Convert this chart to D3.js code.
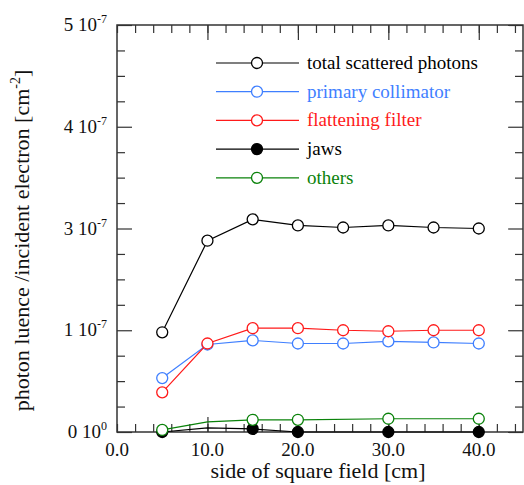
<!DOCTYPE html>
<html>
<head>
<meta charset="utf-8">
<script src="https://cdn.jsdelivr.net/npm/d3@7"></script>
<style>
  body { margin: 0; background: #fff; }
  svg { display: block; font-family: "Liberation Serif", serif; }
</style>
</head>
<body>
<div id="chart_div"></div>
<script>
// field sizes (cm)
var fieldX = [5, 10, 15, 20, 25, 30, 35, 40];

// values in units of 1e-7 (position on the axis)
var totalY = [0.98, 1.88, 2.09, 2.03, 2.01, 2.03, 2.01, 2.00];
var primaryY = [0.53, 0.86, 0.90, 0.87, 0.87, 0.89, 0.88, 0.87];
var filterY = [0.39, 0.87, 1.02, 1.02, 1.00, 0.99, 1.00, 1.00];

var jawsX = [5, 10, 15, 20, 30, 40];
var jawsY = [0.00, 0.04, 0.03, 0.00, 0.00, 0.00];
var jawsMarked = [true, false, true, true, true, true];

var othersX = [5, 10, 15, 20, 30, 40];
var othersY = [0.02, 0.10, 0.12, 0.12, 0.13, 0.13];
var othersMarked = [true, false, true, true, true, true];

// y tick labels as printed on the original
var yTickVals = [0, 1, 2, 3, 4];
var yTickMant = ["0", "1", "3", "4", "5"];
var yTickExp = ["0", "-7", "-7", "-7", "-7"];

var xTickVals = [0, 10, 20, 30, 40];

var series = [
  { name: "total scattered photons", color: "#000000", filled: false, xs: fieldX, ys: totalY },
  { name: "primary collimator", color: "#3f7fff", filled: false, xs: fieldX, ys: primaryY },
  { name: "flattening filter", color: "#ff1a1a", filled: false, xs: fieldX, ys: filterY },
  { name: "jaws", color: "#000000", filled: true, xs: jawsX, ys: jawsY, marked: jawsMarked },
  { name: "others", color: "#0a820a", filled: false, xs: othersX, ys: othersY, marked: othersMarked }
];

var width = 524, height = 485;
var margin = { top: 25, right: 0, bottom: 53, left: 117 };

var svg = d3.select("#chart_div").append("svg")
  .attr("width", width)
  .attr("height", height)
  .attr("viewBox", [0, 0, width, height]);

var x = d3.scaleLinear().domain([0, 45]).range([margin.left, width - margin.right]);
var y = d3.scaleLinear().domain([0, 4]).range([height - margin.bottom, margin.top]);

var axisColor = "#333";
var minorLen = 8, majorLen = 15;

// ticks
var xMinor = d3.range(0, 45, 2);
var yMinor = d3.range(0, 4.01, 0.25).filter(v => Math.abs(v - Math.round(v)) > 1e-6);

function styleAxis(g) {
  g.select(".domain").remove();
  g.selectAll(".tick line").attr("stroke", axisColor).attr("stroke-width", 1.2);
}

svg.append("g").attr("transform", `translate(0,${y(0)})`)
  .call(d3.axisBottom(x).tickValues(xMinor).tickSize(-minorLen).tickFormat("")).call(styleAxis);
svg.append("g").attr("transform", `translate(0,${y(0)})`)
  .call(d3.axisBottom(x).tickValues([10, 20, 30, 40]).tickSize(-majorLen).tickFormat("")).call(styleAxis);
svg.append("g").attr("transform", `translate(0,${y(4)})`)
  .call(d3.axisTop(x).tickValues(xMinor).tickSize(-minorLen).tickFormat("")).call(styleAxis);
svg.append("g").attr("transform", `translate(0,${y(4)})`)
  .call(d3.axisTop(x).tickValues([10, 20, 30, 40]).tickSize(-majorLen).tickFormat("")).call(styleAxis);

svg.append("g").attr("transform", `translate(${x(0)},0)`)
  .call(d3.axisLeft(y).tickValues(yMinor).tickSize(-minorLen).tickFormat("")).call(styleAxis);
svg.append("g").attr("transform", `translate(${x(0)},0)`)
  .call(d3.axisLeft(y).tickValues(yTickVals).tickSize(-majorLen).tickFormat("")).call(styleAxis);
svg.append("g").attr("transform", `translate(${x(45) - 1},0)`)
  .call(d3.axisRight(y).tickValues(yMinor).tickSize(-minorLen).tickFormat("")).call(styleAxis);
svg.append("g").attr("transform", `translate(${x(45) - 1},0)`)
  .call(d3.axisRight(y).tickValues(yTickVals).tickSize(-majorLen).tickFormat("")).call(styleAxis);

// frame
svg.append("rect")
  .attr("x", x(0)).attr("y", y(4))
  .attr("width", x(45) - x(0) - 1).attr("height", y(0) - y(4))
  .attr("fill", "none").attr("stroke", axisColor).attr("stroke-width", 1.5);

// x tick labels
svg.append("g").selectAll("text")
  .data(xTickVals)
  .join("text")
  .attr("x", d => x(d))
  .attr("y", y(0) + 24)
  .attr("text-anchor", "middle")
  .attr("font-size", 19)
  .attr("fill", "#111")
  .text(d => d.toFixed(1));

// y tick labels
var yl = svg.append("g").selectAll("text")
  .data(yTickVals)
  .join("text")
  .attr("x", x(0) - 10)
  .attr("y", d => y(d) + 6)
  .attr("text-anchor", "end")
  .attr("font-size", 19)
  .attr("fill", "#111");
yl.append("tspan").text((d, i) => yTickMant[i] + " 10");
yl.append("tspan").attr("dy", -8).attr("font-size", 12).text((d, i) => yTickExp[i]);

// axis titles
svg.append("text")
  .attr("x", 318)
  .attr("y", 478)
  .attr("text-anchor", "middle")
  .attr("font-size", 22)
  .attr("fill", "#111")
  .text("side of square field [cm]");

var yt = svg.append("text")
  .attr("transform", `translate(29,${(y(0) + y(4)) / 2 + 12}) rotate(-90)`)
  .attr("text-anchor", "middle")
  .attr("font-size", 22)
  .attr("fill", "#111");
yt.append("tspan").text("photon luence /incident electron [cm");
yt.append("tspan").attr("dy", -9).attr("font-size", 14).text("-2");
yt.append("tspan").attr("dy", 9).text("]");

// series lines and markers
var line = d3.line().x(d => x(d[0])).y(d => y(d[1]));

series.forEach(s => {
  var pts = s.xs.map((v, i) => [v, s.ys[i], s.marked ? s.marked[i] : true]);
  svg.append("path")
    .datum(pts)
    .attr("fill", "none")
    .attr("stroke", s.color)
    .attr("stroke-width", 1.2)
    .attr("d", line);
  svg.append("g").selectAll("circle")
    .data(pts.filter(p => p[2]))
    .join("circle")
    .attr("cx", d => x(d[0]))
    .attr("cy", d => y(d[1]))
    .attr("r", 5.5)
    .attr("fill", s.filled ? s.color : "#fff")
    .attr("stroke", s.color)
    .attr("stroke-width", 1.3);
});

// legend
var legend = svg.append("g");
series.forEach((s, i) => {
  var ly = 63 + i * 28.7;
  legend.append("line")
    .attr("x1", 216).attr("x2", 299)
    .attr("y1", ly).attr("y2", ly)
    .attr("stroke", s.color).attr("stroke-width", 1.2);
  legend.append("circle")
    .attr("cx", 257).attr("cy", ly).attr("r", 5.5)
    .attr("fill", s.filled ? s.color : "#fff")
    .attr("stroke", s.color).attr("stroke-width", 1.3);
  legend.append("text")
    .attr("x", 307).attr("y", ly + 6)
    .attr("font-size", 19)
    .attr("fill", s.color)
    .text(s.name);
});
</script>
</body>
</html>
